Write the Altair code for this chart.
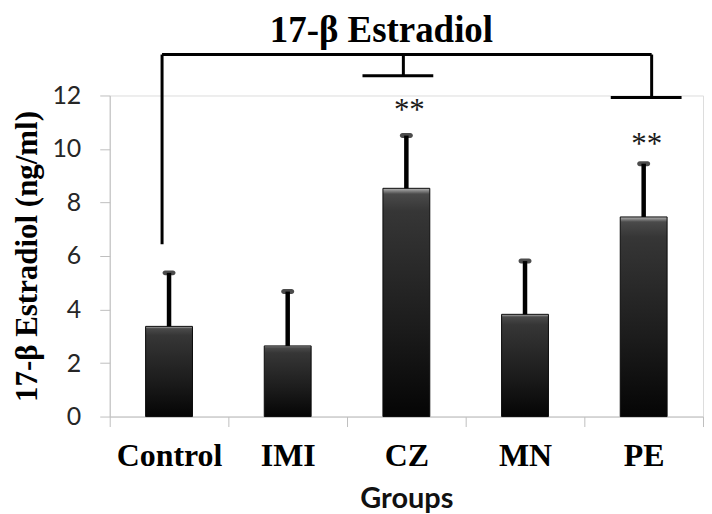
import altair as alt
import pandas as pd

# ---- data ----
groups = ["Control", "IMI", "CZ", "MN", "PE"]
means = [3.37, 2.64, 8.53, 3.82, 7.46]
sds = [2.00, 2.03, 1.97, 1.99, 1.99]

y_ticks = [0, 2, 4, 6, 8, 10, 12]

# significance annotation
star_groups = ["CZ", "PE"]
star_labels = ["**", "**"]
star_levels = [11.1, 9.83]

# bracket levels (data units)
bracket_top = 13.53
bracket_left_end = 6.44
bracket_cz_level = 12.74
bracket_pe_level = 11.92

df = pd.DataFrame({"group": groups, "mean": means, "sd": sds})
df["upper"] = df["mean"] + df["sd"]

stars = pd.DataFrame({"group": star_groups, "label": star_labels, "y": star_levels})

W, H = 595, 322

x_enc = alt.X(
    "group:N",
    sort=groups,
    scale=alt.Scale(domain=groups, paddingInner=0, paddingOuter=0),
    title="Groups",
    axis=alt.Axis(
        labelAngle=0,
        labelFont="Liberation Serif",
        labelFontSize=32,
        labelFontWeight="bold",
        labelColor="black",
        labelBaseline="alphabetic",
        labelPadding=39,
        tickBand="extent",
        tickSize=10,
        tickColor="#bfbfbf",
        domainColor="#bfbfbf",
        domainWidth=1,
        titleFont="Lato",
        titleFontSize=29,
        titleFontWeight="bold",
        titleColor="#111111",
        titleBaseline="alphabetic",
        titlePadding=36,
    ),
)

y_scale = alt.Scale(domain=[0, 12], nice=False, zero=True)
y_axis = alt.Axis(
    values=y_ticks,
    grid=False,
    tickSize=10,
    tickColor="#bfbfbf",
    domainColor="#bfbfbf",
    domainWidth=1,
    labelFont="Lato",
    labelFontSize=25,
    labelColor="#262626",
    labelPadding=19,
    titleFont="Liberation Serif",
    titleFontSize=31,
    titleFontWeight="bold",
    titleColor="black",
    titleBaseline="alphabetic",
    titlePadding=15,
)

base = alt.Chart(df)

bar_fill = alt.Gradient(
    gradient="linear",
    stops=[
        alt.GradientStop(color="#b4b4b4", offset=0),
        alt.GradientStop(color="#4a4a4a", offset=0.025),
        alt.GradientStop(color="#363636", offset=0.1),
        alt.GradientStop(color="#1c1c1c", offset=0.6),
        alt.GradientStop(color="#050505", offset=1),
    ],
    x1=0, x2=0, y1=0, y2=1,
)

gx = alt.X("group:N", sort=groups)

bars = base.mark_bar(size=47, color=bar_fill, stroke="#0a0a0a", strokeWidth=1).encode(
    x=x_enc,
    y=alt.Y("mean:Q", scale=y_scale, axis=y_axis, title="17-β Estradiol (ng/ml)"),
)

err = base.mark_rule(color="black", strokeWidth=4.5).encode(
    x=gx, y=alt.Y("mean:Q"), y2="upper:Q",
)

caps = base.mark_tick(color="black", size=13, thickness=5, cornerRadius=2.5).encode(
    x=gx, y=alt.Y("upper:Q"),
)

star_text = alt.Chart(stars).mark_text(
    font="Liberation Serif", fontSize=31, baseline="alphabetic", color="#1a1a1a", dx=3
).encode(
    x=alt.X("group:N", sort=groups),
    y=alt.Y("y:Q"),
    text="label:N",
)

def seg(row, **mark):
    return alt.Chart(pd.DataFrame([row])).mark_rule(color="black", strokeWidth=3, **mark)

top_line = seg({"a": "Control", "b": "PE", "y": bracket_top}, xOffset=-7, x2Offset=8).encode(
    x=alt.X("a:N", sort=groups), x2="b:N", y="y:Q"
)
left_drop = seg({"a": "Control", "y": bracket_top, "y2": bracket_left_end}, xOffset=-7).encode(
    x=alt.X("a:N", sort=groups), y="y:Q", y2="y2:Q"
)
cz_drop = seg({"a": "CZ", "y": bracket_top, "y2": bracket_cz_level}, xOffset=-3).encode(
    x=alt.X("a:N", sort=groups), y="y:Q", y2="y2:Q"
)
cz_bar = seg({"a": "CZ", "y": bracket_cz_level}, xOffset=-44, x2Offset=27).encode(
    x=alt.X("a:N", sort=groups), x2="a:N", y="y:Q"
)
pe_drop = seg({"a": "PE", "y": bracket_top, "y2": bracket_pe_level}, xOffset=8).encode(
    x=alt.X("a:N", sort=groups), y="y:Q", y2="y2:Q"
)
pe_bar = seg({"a": "PE", "y": bracket_pe_level}, xOffset=-33, x2Offset=38).encode(
    x=alt.X("a:N", sort=groups), x2="a:N", y="y:Q"
)

chart = alt.layer(
    bars, err, caps, star_text, top_line, left_drop, cz_drop, cz_bar, pe_drop, pe_bar
).properties(
    width=W,
    height=H,
    padding={"left": 3, "top": 3, "right": 0, "bottom": 0},
    title=alt.TitleParams(
        "17-β Estradiol",
        font="Liberation Serif",
        fontSize=37,
        fontWeight="bold",
        color="black",
        anchor="middle",
        frame="group",
        baseline="alphabetic",
        dx=-25,
        offset=-26,
    ),
).configure_view(stroke=None).configure(background="white")

chart.save("out.html", embed_options={"renderer": "svg", "actions": False})
